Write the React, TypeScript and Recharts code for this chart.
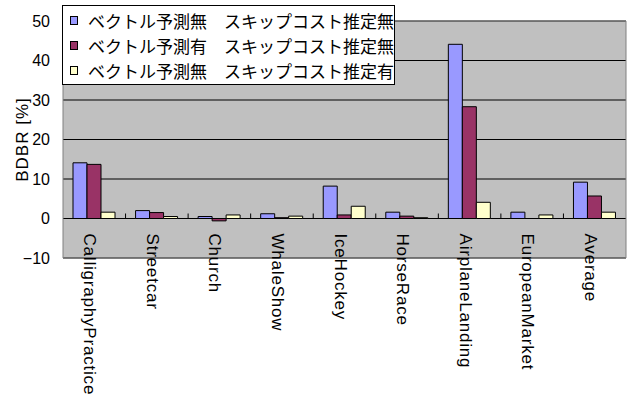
import React from 'react';
import {
  BarChart,
  Bar,
  XAxis,
  YAxis,
  CartesianGrid,
  Legend,
  ReferenceArea,
} from 'recharts';

const categories = [
  'CalligraphyPractice',
  'Streetcar',
  'Church',
  'WhaleShow',
  'IceHockey',
  'HorseRace',
  'AirplaneLanding',
  'EuropeanMarket',
  'Average',
];

// ベクトル予測無 スキップコスト推定無
const noPredNoSkip = [14.1, 2.0, 0.5, 1.2, 8.2, 1.6, 44.1, 1.6, 9.2];
// ベクトル予測有 スキップコスト推定無
const predNoSkip = [13.7, 1.5, -0.6, 0.2, 0.9, 0.6, 28.3, 0, 5.7];
// ベクトル予測無 スキップコスト推定有
const noPredSkip = [1.6, 0.5, 0.9, 0.6, 3.1, 0.2, 4.1, 0.9, 1.6];

const seriesNames = [
  'ベクトル予測無　スキップコスト推定無',
  'ベクトル予測有　スキップコスト推定無',
  'ベクトル予測無　スキップコスト推定有',
];

const yTicks = [-10, 0, 10, 20, 30, 40, 50];

const data = categories.map((name, i) => ({
  name,
  a: noPredNoSkip[i],
  b: predNoSkip[i],
  c: noPredSkip[i],
}));

const W = 628;
const H = 397;
const TOP = 21;
const LEFT = 63;
const RIGHT = 2;
const PLOT_H = 237;
const PLOT_W = W - LEFT - RIGHT;
const Y_MIN = -10;
const Y_MAX = 50;
const zeroY = TOP + (PLOT_H * (Y_MAX - 0)) / (Y_MAX - Y_MIN);
const band = PLOT_W / categories.length;
const FONT = "'Liberation Sans', Arial, sans-serif";

const CategoryTick = (props: any) => {
  const { x, payload, index } = props;
  const tx = x - 10;
  const ty = zeroY + 15;
  return (
    <g>
      {index < categories.length - 1 && (
        <line x1={x + band / 2} x2={x + band / 2} y1={zeroY - 5} y2={zeroY} stroke="#000" />
      )}
      <text
        x={tx}
        y={ty}
        transform={`rotate(90, ${tx}, ${ty})`}
        textAnchor="start"
        fontSize={17}
        letterSpacing={0.8}
        fontFamily={FONT}
        fill="#000"
      >
        {payload.value}
      </text>
    </g>
  );
};

const LegendBox = (props: any) => {
  const items = [...(props.payload || [])].sort(
    (p: any, q: any) => seriesNames.indexOf(p.value) - seriesNames.indexOf(q.value)
  );
  return (
    <div
      style={{
        background: '#fff',
        border: '1px solid #000',
        padding: '2px 0 0 7px',
        boxSizing: 'border-box',
        width: 333,
        height: 80,
      }}
    >
      {items.map((entry: any) => (
        <div key={entry.value} style={{ display: 'flex', alignItems: 'center', height: 25 }}>
          <div
            style={{
              width: 9,
              height: 9,
              boxSizing: 'border-box',
              background: entry.color,
              border: '1px solid #000',
              marginRight: 10,
            }}
          />
          <span
            style={{
              fontFamily: "'Noto Sans CJK JP', sans-serif",
              fontSize: 17,
              lineHeight: '25px',
              color: '#000',
              whiteSpace: 'nowrap',
            }}
          >
            {entry.value}
          </span>
        </div>
      ))}
    </div>
  );
};

export default function App() {
  return (
    <div style={{ position: 'absolute', left: 0, top: 0, background: '#fff' }}>
      <BarChart
        width={W}
        height={H}
        data={data}
        margin={{ top: TOP, right: RIGHT, left: 0, bottom: 0 }}
        barCategoryGap="16%"
        barGap={0}
      >
        <CartesianGrid vertical={false} stroke="#000" fill="#C0C0C0" />
        <XAxis
          dataKey="name"
          interval={0}
          axisLine={false}
          tickLine={false}
          height={H - TOP - PLOT_H}
          tick={<CategoryTick />}
        />
        <YAxis
          width={LEFT}
          domain={[Y_MIN, Y_MAX]}
          ticks={yTicks}
          interval={0}
          axisLine={false}
          tickLine={false}
          tickSize={0}
          tickMargin={13}
          tickFormatter={(v: number) => String(v).replace('-', '−')}
          tick={{ fontSize: 16, fill: '#000', fontFamily: FONT }}
          label={{
            value: 'BDBR [%]',
            angle: -90,
            position: 'center',
            dx: -10,
            style: { fontSize: 17, letterSpacing: 1, fill: '#000', fontFamily: FONT },
          }}
        />
        <ReferenceArea y1={Y_MIN} y2={Y_MAX} fill="none" stroke="#808080" ifOverflow="visible" />
        <Legend
          layout="vertical"
          align="center"
          verticalAlign="middle"
          wrapperStyle={{ left: 62, top: 5, width: 333, height: 80 }}
          content={<LegendBox />}
        />
        <Bar dataKey="a" name={seriesNames[0]} fill="#9999FF" stroke="#000" strokeWidth={1} isAnimationActive={false} />
        <Bar dataKey="b" name={seriesNames[1]} fill="#993366" stroke="#000" strokeWidth={1} isAnimationActive={false} />
        <Bar dataKey="c" name={seriesNames[2]} fill="#FFFFCC" stroke="#000" strokeWidth={1} isAnimationActive={false} />
      </BarChart>
    </div>
  );
}
